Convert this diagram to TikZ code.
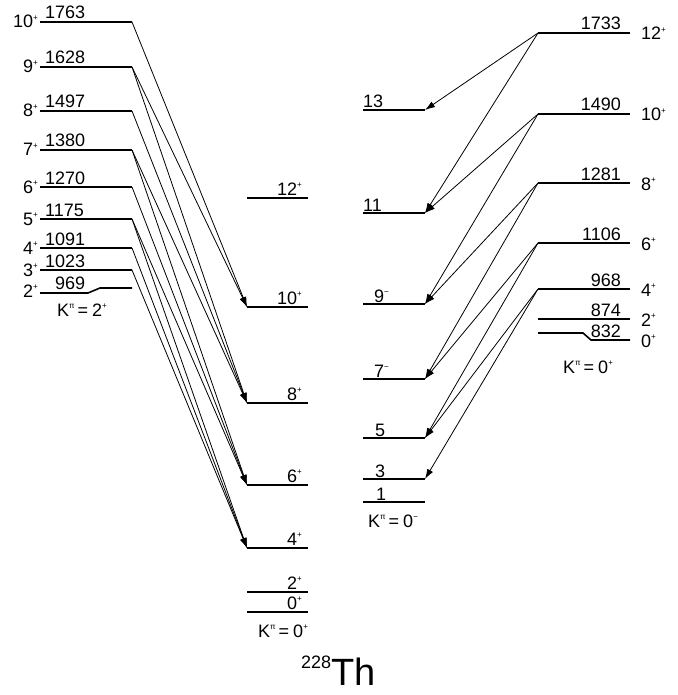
\documentclass[tikz,border=0pt]{standalone}
\usepackage{fontspec}
\setmainfont{Liberation Sans}
\usetikzlibrary{arrows.meta}
\newcommand{\parsup}[1]{\raisebox{0.42em}{\fontsize{8pt}{8pt}\selectfont #1}}
\newcommand{\kpi}[2]{K\parsup{π}\hspace{3pt}=\hspace{4pt}#1\parsup{#2}}

\begin{document}
\begin{tikzpicture}[x=1pt,y=-1pt,
    lvl/.style={line width=1.6pt},
    trans/.style={line width=0.8pt,-{Latex[length=10pt,width=6.5pt]}},
    lab/.style={font=\fontsize{18pt}{18pt}\selectfont,inner sep=0pt}]
\useasboundingbox (0,0) rectangle (677,695);
\foreach \s/\e/\y in {10/1763/22,9/1628/67,8/1497/111,7/1380/150,6/1270/187,5/1175/219,4/1091/248,3/1023/270} {
    \coordinate (gL\s) at (40,\y); \coordinate (gR\s) at (132,\y);
    \draw[lvl] (gL\s) -- (gR\s);
    \node[lab,anchor=base east] (gs\s) at (38,\y+6) {\s\parsup{+}};
    \node[lab,anchor=base west] (ge\s) at (45,\y-3) {\e};
}
\coordinate (gL2) at (40,293); \coordinate (gK2) at (88,293); \coordinate (gJ2) at (100,288); \coordinate (gR2) at (132,288);
\draw[lvl] (gL2) -- (gK2) -- (gJ2) -- (gR2);
\node[lab,anchor=base east] (gs2) at (38,297) {2\parsup{+}};
\node[lab,anchor=base west] (ge2) at (55,289) {969};
\node[lab,anchor=base west] (gK) at (57,316) {\kpi{2}{+}};
\foreach \s/\y in {12/198,10/307,8/403,6/485,4/548,2/592,0/612} {
    \coordinate (mL\s) at (247,\y); \coordinate (mR\s) at (308,\y);
    \draw[lvl] (mL\s) -- (mR\s);
    \node[lab,anchor=base east] (ms\s) at (302,\y-3) {\s\parsup{+}};
}
\node[lab,anchor=base west] (mK) at (258,637) {\kpi{0}{+}};
\foreach \s/\t/\y/\x in {13/13/110/363,11/11/213/363,9/{9\parsup{−}}/304/374,7/{7\parsup{−}}/379/374,5/5/438/375,3/3/479/375,1/1/502/376} {
    \coordinate (nL\s) at (363,\y); \coordinate (nR\s) at (425,\y);
    \draw[lvl] (nL\s) -- (nR\s);
    \node[lab,anchor=base west] (ns\s) at (\x,\y-2) {\t};
}
\node[lab,anchor=base west] (nK) at (368,527) {\kpi{0}{−}};
\foreach \s/\e/\y in {12/1733/33,10/1490/114,8/1281/183,6/1106/243,4/968/289,2/874/319} {
    \coordinate (bL\s) at (538,\y); \coordinate (bR\s) at (630,\y);
    \draw[lvl] (bL\s) -- (bR\s);
    \node[lab,anchor=base west] (bs\s) at (641,\y+7) {\s\parsup{+}};
    \node[lab,anchor=base east] (be\s) at (621,\y-3) {\e};
}
\coordinate (bL0) at (538,333); \coordinate (bK0) at (583,333); \coordinate (bJ0) at (591,340); \coordinate (bR0) at (630,340);
\draw[lvl] (bL0) -- (bK0) -- (bJ0) -- (bR0);
\node[lab,anchor=base west] (bs0) at (641,347) {0\parsup{+}};
\node[lab,anchor=base east] (be0) at (621,337) {832};
\node[lab,anchor=base west] (bK) at (563,373) {\kpi{0}{+}};
\foreach \a/\b in {10/10,9/10,9/8,8/8,7/8,7/6,6/6,5/6,5/4,4/4,3/4}
    \draw[trans] (gR\a) -- (mL\b);
\foreach \a/\b in {12/13,12/11,10/11,10/9,8/9,8/7,6/7,6/5,4/5,4/3}
    \draw[trans] (bL\a) -- (nR\b);
\node[anchor=base west,inner sep=0pt] (title) at (301,685) {\fontsize{18pt}{18pt}\selectfont\raisebox{17pt}{228}\fontsize{38pt}{38pt}\selectfont Th};
\end{tikzpicture}
\end{document}
